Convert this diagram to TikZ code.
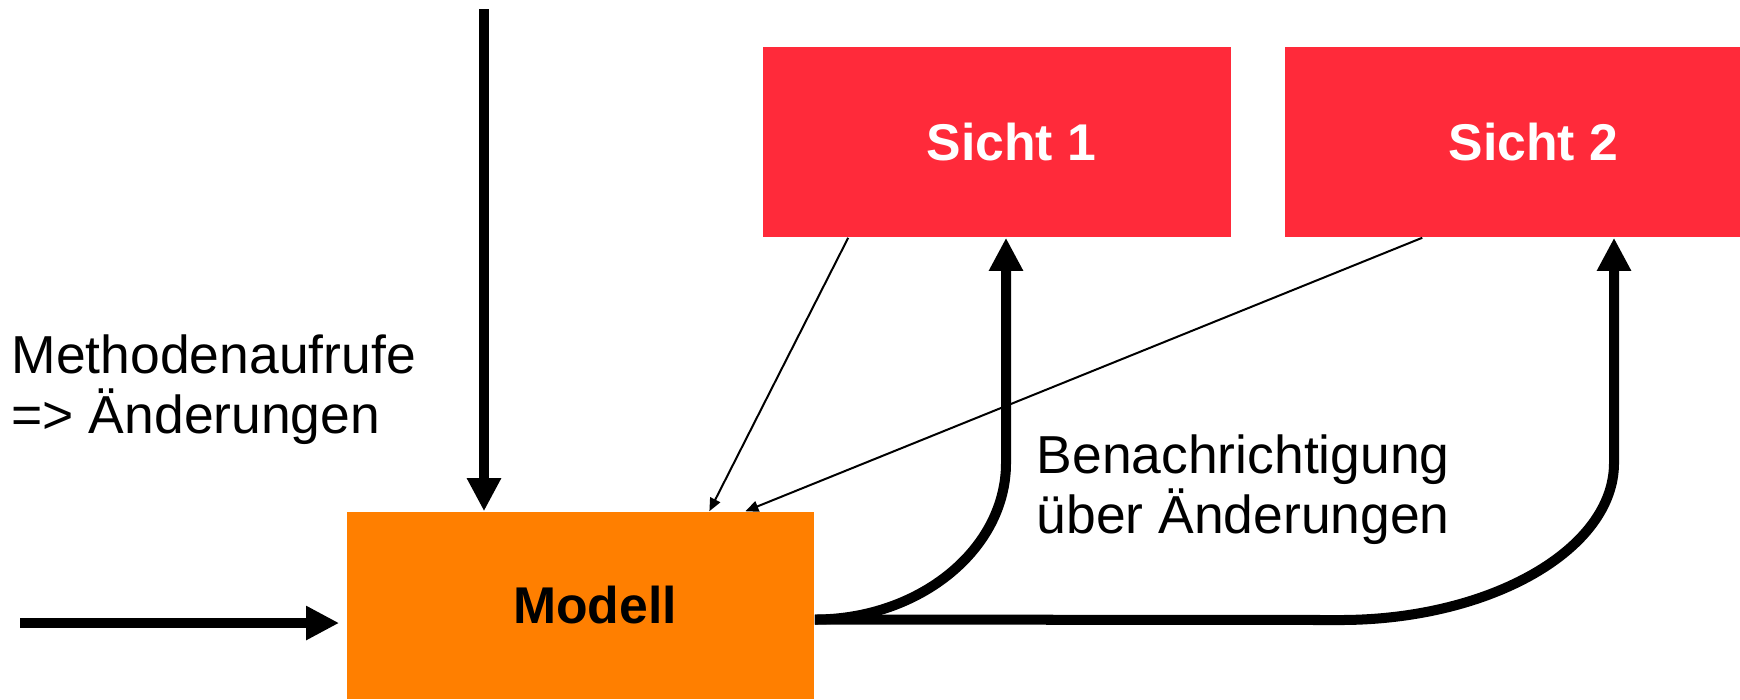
\documentclass[tikz,border=0pt]{standalone}
\usepackage{fontspec}
\setmainfont{Liberation Sans}
\usetikzlibrary{arrows.meta}
\definecolor{modellorange}{RGB}{255,127,0}
\definecolor{sichtrot}{RGB}{255,42,58}

\begin{document}
\begin{tikzpicture}[x=0.01cm, y=-0.01cm,
    box/.style={rectangle, minimum width=4.68cm, minimum height=1.9cm, inner sep=0pt,
        font=\fontsize{14.7pt}{17pt}\selectfont\bfseries,
        execute at begin node={\hspace*{0.29cm}}},
    bigarrow/.style={line width=0.1cm, -{Triangle[length=0.33cm, width=0.32cm]}},
    thinarrow/.style={line width=0.02cm, -{Triangle[length=0.13cm, width=0.11cm]}},
    txt/.style={align=left, inner sep=0pt, font=\fontsize{15.2pt}{17pt}\selectfont}]
    \useasboundingbox (0,0) rectangle (1740,699);

    % Modell und Sichten
    \node[box, fill=modellorange, minimum width=4.67cm, minimum height=1.87cm] (modell) at (580.5,605.5) {Modell};
    \node[box, fill=sichtrot, text=white] (sicht1) at (997,142) {Sicht 1};
    \node[box, fill=sichtrot, text=white] (sicht2) at (1519,142) {Sicht 2};

    % Beschriftungen (base = letzte Zeile)
    \node[txt, anchor=base west] (aufrufe) at (11,433) {Methodenaufrufe\\=> Änderungen};
    \node[txt, anchor=base west] (benachr) at (1036,533) {Benachrichtigung\\über Änderungen};

    % Methodenaufrufe von aussen
    \coordinate (oben) at (484,9);
    \coordinate (links) at (20,623);
    \draw[bigarrow] (oben) -- (oben |- modell.north);
    \draw[bigarrow, shorten >=0.07cm] (links) -- (links -| modell.west);

    % Sichten holen sich den Zustand
    \draw[thinarrow] ([xshift=0.86cm]sicht1.south west) -- ([xshift=3.63cm]modell.north west);
    \draw[thinarrow] ([xshift=1.38cm]sicht2.south west) -- ([xshift=3.99cm]modell.north west);

    % Benachrichtigung ueber Aenderungen
    \coordinate (ab) at ([yshift=-0.14cm]modell.east);
    \coordinate (weiter) at (1340,620);
    \coordinate (knick1) at (1006,463);
    \coordinate (knick2) at (1614,463);
    \draw[bigarrow] (ab) .. controls +(105,0) and +(0,86) .. (knick1) -- (knick1 |- sicht1.south);
    \draw[bigarrow] (ab) -- (weiter) .. controls +(151,0) and +(0,86) .. (knick2) -- (knick2 |- sicht2.south);
\end{tikzpicture}
\end{document}
